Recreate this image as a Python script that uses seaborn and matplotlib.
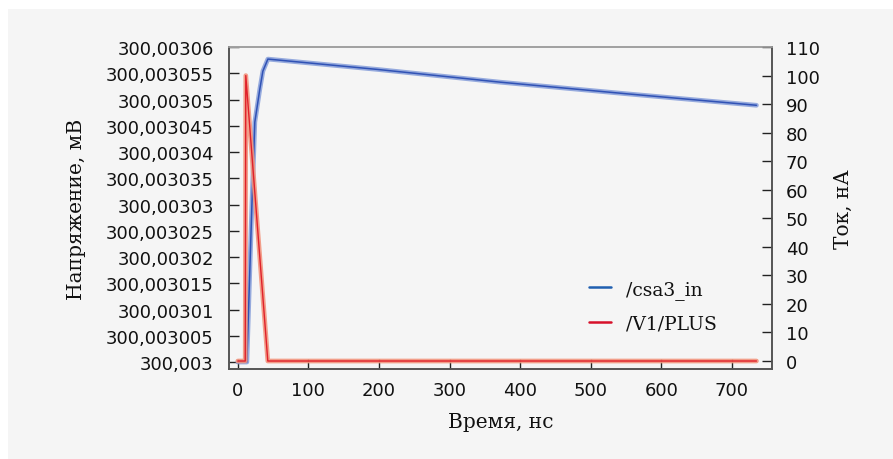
import matplotlib
matplotlib.use("Agg")
import matplotlib.pyplot as plt
import seaborn as sns
import pandas as pd
from matplotlib.lines import Line2D
from matplotlib.patches import Rectangle
from matplotlib.ticker import FixedLocator, FixedFormatter

# ---- data ----
t_volt = [0, 12.8, 14.2, 19.9, 24.1, 31.2, 35.5, 42.6, 200, 372, 550, 735]
volt = [300.003, 300.003, 300.0030057, 300.0030297, 300.0030457, 300.003052,
        300.0030554, 300.0030577, 300.0030557, 300.0030533, 300.0030511, 300.0030489]
t_curr = [0, 10.5, 11.3, 42.5, 735]
curr = [0, 0, 100, 0, 0]

x_ticks = [0, 100, 200, 300, 400, 500, 600, 700]
y_left_ticks = [300.003 + i * 0.000005 for i in range(13)]
y_left_labels = ["300,003", "300,003005", "300,00301", "300,003015", "300,00302",
                 "300,003025", "300,00303", "300,003035", "300,00304", "300,003045",
                 "300,00305", "300,003055", "300,00306"]
y_right_ticks = list(range(0, 111, 10))

series_names = ["/csa3_in", "/V1/PLUS"]
x_label = "Время, нс"
y_left_label = "Напряжение, мВ"
y_right_label = "Ток, нА"

# ---- style ----
sns.set_theme(style="ticks")
plt.rcParams["font.family"] = ["DejaVu Sans"]
BG = "#f5f5f5"
SERIF = ["DejaVu Serif"]

fig = plt.figure(figsize=(8.93, 4.60), dpi=100, facecolor="white")
fig.patches.append(Rectangle((8 / 893, 0), 1, (460 - 10) / 460, transform=fig.transFigure,
                             facecolor=BG, edgecolor="none", zorder=-10))
ax = fig.add_axes([229 / 893, (460 - 370) / 460, (772 - 229) / 893, (370 - 48) / 460])
ax.set_facecolor(BG)
ax2 = ax.twinx()

df_v = pd.DataFrame({"t": t_volt, "v": volt})
df_c = pd.DataFrame({"t": t_curr, "c": curr})

# voltage: soft halo + core
sns.lineplot(data=df_v, x="t", y="v", ax=ax, color="#7e98d8", lw=3.4, alpha=0.8, zorder=3)
sns.lineplot(data=df_v, x="t", y="v", ax=ax, color="#3052b5", lw=1.1, zorder=4)
# current: soft halo + core
sns.lineplot(data=df_c, x="t", y="c", ax=ax2, color="#f2957e", lw=3.4, alpha=0.9, zorder=3)
sns.lineplot(data=df_c, x="t", y="c", ax=ax2, color="#e0202a", lw=1.0, zorder=4)

ax.set_xlim(-12.5, 757)
ax.set_ylim(300.003 - 0.00000133, 300.00306)
ax2.set_ylim(-2.8, 110)

ax.xaxis.set_major_locator(FixedLocator(x_ticks))
ax.yaxis.set_major_locator(FixedLocator(y_left_ticks))
ax.yaxis.set_major_formatter(FixedFormatter(y_left_labels))
ax2.yaxis.set_major_locator(FixedLocator(y_right_ticks))

tick_kw = dict(direction="in", length=7.5, width=1.0, color="#222222",
               labelsize=13, labelcolor="#111111")
ax.tick_params(axis="x", pad=9, **tick_kw)
ax.tick_params(axis="y", pad=11, **tick_kw)
ax2.tick_params(axis="y", pad=10, **tick_kw)

for a in (ax, ax2):
    a.spines["left"].set_color("#555555")
    a.spines["right"].set_color("#555555")
    a.spines["bottom"].set_color("#555555")
    a.spines["top"].set_color("#a0a0a0")
    for s in a.spines.values():
        s.set_linewidth(1.2)
        s.set_visible(True)

ax.set_xlabel(x_label, fontsize=14.5, family=SERIF, color="#111111", labelpad=9)
ax.set_ylabel(y_left_label, fontsize=14.5, family=SERIF, color="#111111", labelpad=14)
ax2.set_ylabel(y_right_label, fontsize=14.5, family=SERIF, color="#111111", labelpad=10)

handles = [Line2D([], [], color="#1f5fb0", lw=1.8), Line2D([], [], color="#d7102a", lw=1.8)]
leg = ax2.legend(handles, series_names, loc="lower right", bbox_to_anchor=(0.93, 0.06),
                 frameon=False, prop={"family": SERIF, "size": 13.5},
                 handlelength=1.2, handletextpad=0.8, labelspacing=0.85)
for txt in leg.get_texts():
    txt.set_color("#111111")

fig.savefig("out.png", dpi=100, facecolor="white")
